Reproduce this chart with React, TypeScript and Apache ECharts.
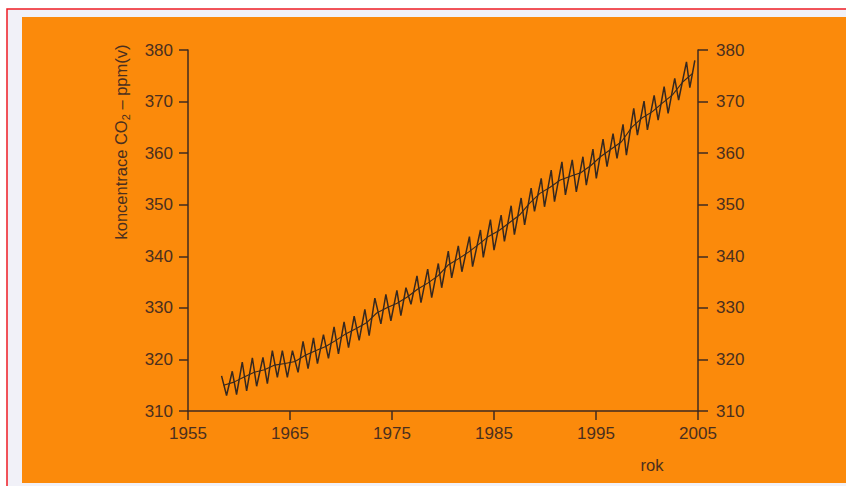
import React, { useEffect, useRef } from "react";
import * as echarts from "echarts";

// Year ticks and CO2 tick range
const xTicks = [1955, 1965, 1975, 1985, 1995, 2005];
const yMin = 310;
const yMax = 380;

// Seasonal maxima (year, ppm)
const peakYears = [1959.34, 1960.32, 1961.31, 1962.35, 1963.27, 1964.25, 1965.24, 1966.28, 1967.3, 1968.28, 1969.32, 1970.3, 1971.29, 1972.34, 1973.32, 1974.4, 1975.48, 1976.37, 1977.45, 1978.5, 1979.54, 1980.52, 1981.5, 1982.59, 1983.67, 1984.65, 1985.7, 1986.68, 1987.66, 1988.64, 1989.63, 1990.61, 1991.66, 1992.67, 1993.72, 1994.7, 1995.69, 1996.67, 1997.65, 1998.7, 1999.71, 2000.7, 2001.68, 2002.72, 2003.87, 2004.69];
const peakValues = [317.7, 319.5, 320.3, 320.4, 321.7, 321.7, 321.7, 323.5, 324.2, 324.8, 326.3, 327.3, 328.4, 329.7, 331.9, 332.6, 333.4, 333.9, 336.2, 337.5, 338.6, 341.0, 342.0, 343.8, 345.1, 347.1, 348.0, 349.8, 351.3, 353.2, 355.1, 356.7, 358.3, 358.7, 359.3, 360.8, 362.7, 363.8, 365.6, 368.7, 370.1, 371.2, 372.9, 374.5, 377.7, 378.0];

// Seasonal minima (year, ppm)
const troughYears = [1958.78, 1959.76, 1960.75, 1961.73, 1962.78, 1963.76, 1964.74, 1965.79, 1966.77, 1967.69, 1968.77, 1969.75, 1970.74, 1971.78, 1972.76, 1973.91, 1974.89, 1975.87, 1976.86, 1977.84, 1978.89, 1979.87, 1980.85, 1981.85, 1982.9, 1983.95, 1985.0, 1986.02, 1987.0, 1988.0, 1988.97, 1989.95, 1990.93, 1992.0, 1993.07, 1994.05, 1995.03, 1996.08, 1997.06, 1997.98, 1999.06, 2000.04, 2001.09, 2002.07, 2003.1, 2004.2];
const troughValues = [313.0, 313.2, 313.9, 314.8, 315.3, 316.5, 316.5, 317.5, 318.2, 319.2, 320.2, 321.1, 322.3, 323.7, 324.6, 326.9, 327.5, 328.5, 330.7, 331.0, 332.0, 333.9, 335.8, 337.0, 338.0, 339.8, 341.2, 342.9, 344.2, 346.1, 348.7, 349.6, 350.6, 351.9, 352.5, 353.8, 355.1, 357.4, 359.0, 359.6, 363.5, 364.5, 366.4, 367.7, 370.3, 372.7];

// First measured point
const startYear = 1958.29;
const startValue = 316.8;

// Seasonally adjusted trend (year, ppm)
const trendYears = [1958.5, 1959.5, 1960.5, 1961.5, 1962.5, 1963.5, 1964.5, 1965.5, 1966.5, 1967.5, 1968.5, 1969.5, 1970.5, 1971.5, 1972.5, 1973.5, 1974.5, 1975.5, 1976.5, 1977.5, 1978.5, 1979.5, 1980.5, 1981.5, 1982.5, 1983.5, 1984.5, 1985.5, 1986.5, 1987.5, 1988.5, 1989.5, 1990.5, 1991.5, 1992.5, 1993.5, 1994.5, 1995.5, 1996.5, 1997.5, 1998.5, 1999.5, 2000.5, 2001.5, 2002.5, 2003.5, 2004.5];
const trendValues = [315.0, 315.6, 316.6, 317.5, 318.0, 318.9, 319.2, 319.6, 320.8, 321.7, 322.5, 323.7, 325.0, 326.0, 327.1, 329.0, 330.0, 330.9, 332.1, 333.6, 334.8, 336.2, 338.3, 339.5, 340.8, 342.3, 343.9, 345.0, 346.5, 348.0, 350.3, 352.2, 353.4, 354.8, 355.5, 356.2, 357.6, 359.4, 360.8, 362.2, 365.0, 366.8, 368.0, 369.7, 371.3, 373.8, 375.5];

const yAxisTitle = "koncentrace CO";
const yAxisTitleSub = "2";
const yAxisTitleEnd = " – ppm(v)";
const xAxisTitle = "rok";

const FONT = "'Liberation Sans', Arial, Helvetica, sans-serif";
const TEXT = "#4a2f1f";
const LINE = "#3f2a20";

export default function App() {
  const ref = useRef<HTMLDivElement>(null);
  useEffect(() => {
    if (!ref.current) return;
    const chart = echarts.init(ref.current, undefined, { renderer: "svg" });

    const pts: [number, number][] = [[startYear, startValue]];
    const n = Math.max(peakYears.length, troughYears.length);
    for (let i = 0; i < n; i++) {
      if (i < troughYears.length) pts.push([troughYears[i], troughValues[i]]);
      if (i < peakYears.length) pts.push([peakYears[i], peakValues[i]]);
    }
    pts.sort((a, b) => a[0] - b[0]);
    const trend = trendYears.map((y, i) => [y, trendValues[i]]);

    const yAxisBase = {
      type: "value",
      min: yMin,
      max: yMax,
      interval: 10,
      splitLine: { show: false },
      axisLine: { show: true, lineStyle: { color: LINE, width: 1.5 } },
      axisTick: { show: true, inside: false, length: 9, lineStyle: { color: LINE, width: 1.5 } },
      axisLabel: { color: TEXT, fontSize: 17, fontFamily: FONT, margin: 15 },
    };

    chart.setOption({
      animation: false,
      backgroundColor: "#ffffff",
      grid: { left: 188, right: 148, top: 50, bottom: 75, containLabel: false },
      xAxis: {
        type: "value",
        min: xTicks[0],
        max: xTicks[xTicks.length - 1],
        interval: 10,
        splitLine: { show: false },
        axisLine: { show: true, onZero: false, lineStyle: { color: LINE, width: 1.5 } },
        axisTick: { show: true, length: 9, lineStyle: { color: LINE, width: 1.5 } },
        axisLabel: { color: TEXT, fontSize: 17, fontFamily: FONT, margin: 14, formatter: (v: number) => String(v) },
      },
      yAxis: [
        { ...yAxisBase, position: "left" },
        { ...yAxisBase, position: "right", axisTick: { ...yAxisBase.axisTick, length: 10 }, axisLabel: { ...yAxisBase.axisLabel, margin: 18 } },
      ],
      series: [
        {
          type: "line",
          data: pts,
          yAxisIndex: 0,
          showSymbol: false,
          symbol: "none",
          lineStyle: { color: "#36281f", width: 1.5 },
          z: 3,
        },
        {
          type: "line",
          data: trend,
          yAxisIndex: 0,
          showSymbol: false,
          symbol: "none",
          lineStyle: { color: "#36281f", width: 1.1 },
          z: 3,
        },
      ],
      graphic: [
        {
          type: "rect",
          z: -20,
          silent: true,
          shape: { x: 7, y: 9, width: 900, height: 500 },
          style: { fill: "#f1f1f8", stroke: "#ee1c24", lineWidth: 1.5 },
        },
        {
          type: "rect",
          z: -10,
          silent: true,
          shape: { x: 22, y: 17, width: 830, height: 466 },
          style: { fill: "#fb8a0b" },
        },
        {
          type: "text",
          z: 10,
          x: 121,
          y: 142,
          rotation: Math.PI / 2,
          style: {
            text: `{a|${yAxisTitle}}{b|${yAxisTitleSub}}{a|${yAxisTitleEnd}}`,
            align: "center",
            verticalAlign: "middle",
            fill: TEXT,
            rich: {
              a: { fontSize: 16.5, fontFamily: FONT, fill: TEXT, lineHeight: 20 },
              b: { fontSize: 11, fontFamily: FONT, fill: TEXT, lineHeight: 10, verticalAlign: "bottom" },
            },
          },
        },
        {
          type: "text",
          z: 10,
          x: 652,
          y: 465,
          style: { text: xAxisTitle, align: "center", verticalAlign: "middle", fontSize: 16.5, fontFamily: FONT, fill: TEXT },
        },
      ],
    });
    return () => chart.dispose();
  }, []);
  return <div ref={ref} style={{ position: "absolute", left: 0, top: 0, width: 846, height: 486 }} />;
}
